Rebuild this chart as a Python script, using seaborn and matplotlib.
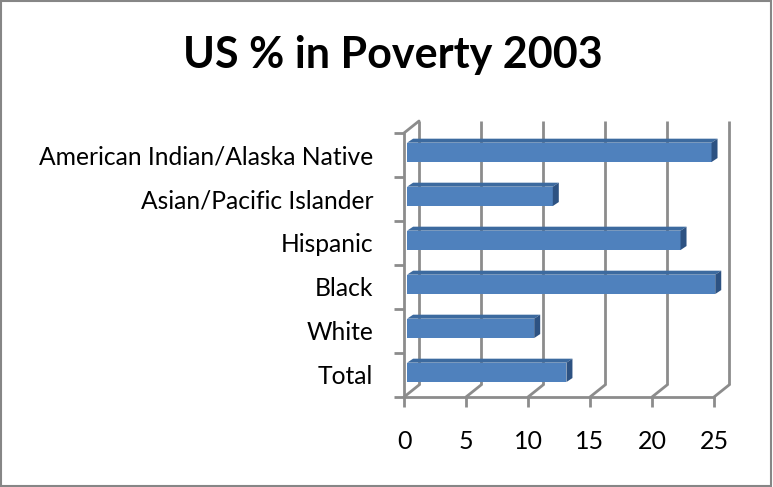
import matplotlib
matplotlib.use("Agg")
import matplotlib.pyplot as plt
import matplotlib.transforms as mtransforms
from matplotlib.patches import Polygon, Rectangle
import seaborn as sns
import pandas as pd

categories = ["American Indian/Alaska Native", "Asian/Pacific Islander", "Hispanic",
              "Black", "White", "Total"]
values = [24.8, 12.0, 22.3, 25.1, 10.5, 13.1]
xticks = [0, 5, 10, 15, 20, 25]
title = "US % in Poverty 2003"

df = pd.DataFrame({"group": categories, "pct": values})

sns.set_theme(style="white")
plt.rcParams["font.family"] = ["Lato", "DejaVu Sans"]

W, H = 773, 487
fig = plt.figure(figsize=(W / 100, H / 100), dpi=100)
left, right, top, bottom = 404, 714, 133, 397
ax = fig.add_axes([left / W, 1 - bottom / H, (right - left) / W, (bottom - top) / H])

face = "#4f81bd"
sns.barplot(data=df, y="group", x="pct", orient="h", color=face, width=0.44,
            saturation=1, ax=ax, zorder=3, edgecolor="none")

ax.set_xlim(0, 25)
ax.set_ylim(5.5, -0.5)
for s in ax.spines.values():
    s.set_visible(False)
ax.set_xlabel("")
ax.set_ylabel("")

gray = "#8c8c8c"
lw = 2.0
bdx, bdy = 15, 12
off = mtransforms.ScaledTranslation(bdx / 100, bdy / 100, fig.dpi_scale_trans)
back = ax.transData + off

for xv in xticks:
    ax.plot([xv, xv], [5.5, -0.5], color=gray, lw=lw, transform=back, clip_on=False, zorder=1,
            solid_capstyle="butt")
px_per_x = (right - left) / 25
px_per_y = (bottom - top) / 6
dxd = bdx / px_per_x
dyd = bdy / px_per_y
for xv in xticks:
    ax.plot([xv, xv + dxd], [5.5, 5.5 - dyd], color=gray, lw=lw, clip_on=False, zorder=1)
ax.plot([0, dxd], [-0.5, -0.5 - dyd], color=gray, lw=lw, clip_on=False, zorder=1)
ax.plot([0, 25], [5.5, 5.5], color=gray, lw=lw, clip_on=False, zorder=2)
ax.plot([0, 0], [5.5, -0.5], color=gray, lw=lw, clip_on=False, zorder=2)

ddx = 6 / px_per_x
ddy = 4 / px_per_y
for p in list(ax.patches):
    if not isinstance(p, Rectangle):
        continue
    p.set_clip_on(False)
    p.set_y(p.get_y() - 0.06)
    x_end = p.get_x() + p.get_width()
    p.set_x(0.25)
    p.set_width(x_end - 0.25)
    x0, y0 = p.get_x(), p.get_y()
    w, h = p.get_width(), p.get_height()
    x1 = x0 + w
    ytop = y0
    ybot = y0 + h
    topface = Polygon([[x0, ytop], [x1, ytop], [x1 + ddx, ytop - ddy], [x0 + ddx, ytop - ddy]],
                      closed=True, facecolor="#3c6a9f", edgecolor="none", zorder=3,
                      clip_on=False)
    side = Polygon([[x1, ytop], [x1 + ddx, ytop - ddy], [x1 + ddx, ybot - ddy], [x1, ybot]],
                   closed=True, facecolor="#2d5282", edgecolor="none", zorder=3,
                   clip_on=False)
    ax.add_patch(topface)
    ax.add_patch(side)

ax.set_xticks(xticks)
ax.set_xticklabels([str(t) for t in xticks])
ax.set_yticks(range(len(categories)))
ax.set_yticklabels(categories)
ax.set_yticks([i - 0.5 for i in range(len(categories) + 1)], minor=True)
ax.tick_params(axis="x", which="major", length=7, width=lw, color=gray, direction="out",
               pad=17, labelsize=18, labelcolor="black", bottom=True)
ax.tick_params(axis="y", which="major", length=0, pad=22, labelsize=17.7, labelcolor="black")
ax.tick_params(axis="y", which="minor", length=7, width=lw, color=gray, direction="out", left=True)

fig.text(393 / W, 1 - 55 / H, title, ha="center", va="center", fontsize=31,
         fontweight="bold", color="black")

fig.patches.append(Rectangle((0.001, 0.002), 0.997, 0.996, transform=fig.transFigure,
                             fill=False, edgecolor="#868686", lw=1.5))

fig.savefig("out.png", dpi=100)
